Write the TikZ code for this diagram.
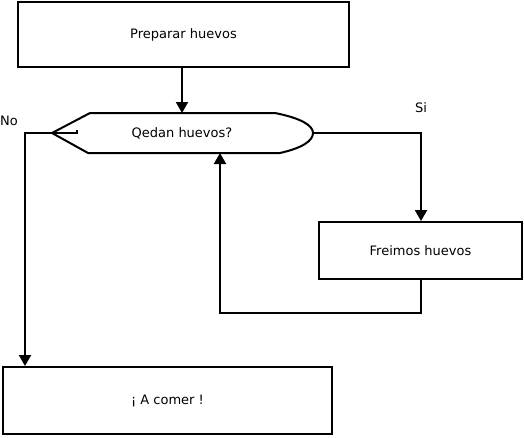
\documentclass[tikz,border=0pt]{standalone}
\usepackage{fontspec}
\setmainfont{DejaVu Sans}
\usetikzlibrary{arrows.meta}
\begin{document}
\begin{tikzpicture}[x=1pt,y=-1pt,
  line width=2pt,
  boxstyle/.style={draw,line width=2pt,inner sep=0pt},
  lbl/.style={font=\fontsize{13}{15}\selectfont},
  conn/.style={line width=2pt,-{Triangle[length=11pt,width=12pt]}},
  wire/.style={line width=2pt}]
\useasboundingbox (0,0) rectangle (524,437);
% boxes
\node[boxstyle,minimum width=331pt,minimum height=65pt,lbl] (prep) at (183.5,34.5) {Preparar huevos};
\node[boxstyle,minimum width=203pt,minimum height=57pt,lbl] (frei) at (420.5,250.5) {Freimos huevos};
\node[boxstyle,minimum width=329pt,minimum height=67pt,lbl] (comer) at (167.5,400.5) {¡ A comer !};
% decision
\node[lbl] (dec) at (182,133) {Qedan huevos?};
\coordinate (decL) at (52,133);
\coordinate (decR) at (313,133);
\coordinate (decT) at (182,113);
\coordinate (decB) at (220,153);
\draw[line width=2pt,line join=round]
  (decL) -- (90,113) -- (275,113) .. controls (300,118) and (313,125) .. (decR)
  .. controls (313,141) and (302,148) .. (280,153) -- (88,153) -- cycle;
\draw[wire] (decL) -- (77,133) -- (77,130);
% connectors
\draw[conn] (prep.south -| decT) -- (decT);
\coordinate (siC) at (421,133);
\draw[conn] (decR) -- (siC) -- (siC |- frei.north);
\coordinate (loopA) at (421,313);
\coordinate (loopB) at (220,313);
\draw[conn] (frei.south -| loopA) -- (loopA) -- (loopB) -- (decB);
\coordinate (noC) at (25,133);
\draw[conn] (decL) -- (noC) -- (noC |- comer.north);
% labels
\node[lbl] (no) at (9,121) {No};
\node[lbl] (si) at (421,108) {Si};
\end{tikzpicture}
\end{document}
